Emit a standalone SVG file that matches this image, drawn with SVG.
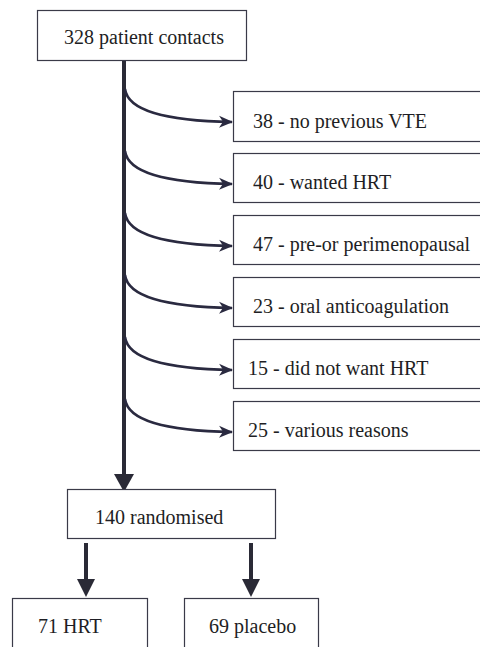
<svg xmlns="http://www.w3.org/2000/svg" width="480" height="647" viewBox="0 0 480 647">
<style>
.box{fill:#fff;stroke:#3a3a48;stroke-width:1.2}
text{font-family:'Liberation Serif','Times New Roman',Times,serif;font-size:20px;fill:#1e1e24}
.main{stroke:#2a2a36;stroke-width:4;fill:none}
.cur{stroke:#2a2a40;stroke-width:2.6;fill:none}
.head{fill:#2a2a36}
</style>
<defs>
<marker id="sh" markerUnits="userSpaceOnUse" markerWidth="16" markerHeight="16" refX="13" refY="8" orient="auto" viewBox="0 0 16 16">
<path d="M0,2 L14,8 L0,14 L4,8 Z" fill="#2a2a40"/>
</marker>
</defs>
<rect width="480" height="647" fill="#fff"/>
<g id="connectors">
<line class="main" x1="124" y1="60" x2="124" y2="476"/>
<path class="head" d="M114,474 L134,474 L124,492 Z"/>
<path class="cur" marker-end="url(#sh)" d="M125,89 C128,112 170,121 232,122"/>
<path class="cur" marker-end="url(#sh)" d="M125,151 C128,174 170,183 232,184"/>
<path class="cur" marker-end="url(#sh)" d="M125,213 C128,236 170,245 232,246"/>
<path class="cur" marker-end="url(#sh)" d="M125,275 C128,298 170,307 232,308"/>
<path class="cur" marker-end="url(#sh)" d="M125,337 C128,360 170,369 232,370"/>
<path class="cur" marker-end="url(#sh)" d="M125,399 C128,422 170,431 232,432"/>
<line class="main" x1="86" y1="543" x2="86" y2="581"/>
<path class="head" d="M77,579 L95,579 L86,597 Z"/>
<line class="main" x1="251" y1="543" x2="251" y2="581"/>
<path class="head" d="M242,579 L260,579 L251,597 Z"/>
</g>
<g id="n0"><rect class="box" x="37.5" y="10.5" width="209" height="50"/><text x="64" y="44">328 patient contacts</text></g>
<g id="n1"><rect class="box" x="233.5" y="91.5" width="260" height="50"/><text x="253" y="128">38 - no previous VTE</text></g>
<g id="n2"><rect class="box" x="233.5" y="153.5" width="260" height="49"/><text x="253" y="189">40 - wanted HRT</text></g>
<g id="n3"><rect class="box" x="233.5" y="215.5" width="260" height="49"/><text x="253" y="251">47 - pre-or perimenopausal</text></g>
<g id="n4"><rect class="box" x="233.5" y="277.5" width="260" height="49"/><text x="253" y="313">23 - oral anticoagulation</text></g>
<g id="n5"><rect class="box" x="233.5" y="339.5" width="260" height="49"/><text x="248" y="375">15 - did not want HRT</text></g>
<g id="n6"><rect class="box" x="233.5" y="401.5" width="260" height="49"/><text x="248" y="437">25 - various reasons</text></g>
<g id="n7"><rect class="box" x="67.5" y="489.5" width="208" height="49"/><text x="95" y="524">140 randomised</text></g>
<g id="n8"><rect class="box" x="12.5" y="598.5" width="135" height="60"/><text x="38" y="633">71 HRT</text></g>
<g id="n9"><rect class="box" x="184.5" y="598.5" width="134" height="60"/><text x="209" y="633">69 placebo</text></g>
</svg>
